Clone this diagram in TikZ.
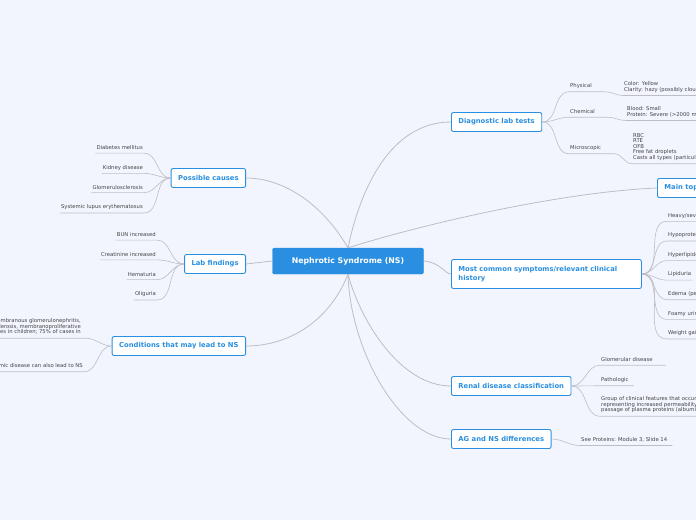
\documentclass[tikz,border=0pt]{standalone}
\usepackage{fontspec}
\setmainfont{DejaVu Sans}
\definecolor{bgblue}{HTML}{F2F5FE}
\definecolor{mapblue}{HTML}{2A8FE0}
\definecolor{linegray}{HTML}{BDBEC4}
\definecolor{leaftext}{HTML}{444444}

\tikzset{%
  central/.style={
    fill=mapblue,
    draw=mapblue,
    rounded corners=1.5pt,
    text=white,
    font=\fontsize{7.8}{9}\selectfont\bfseries,
    minimum width=151pt,
    minimum height=26pt
  },
  topic/.style={
    fill=white,
    draw=mapblue,
    line width=0.9pt,
    rounded corners=2pt,
    text=mapblue,
    font=\fontsize{6.8}{9}\selectfont\bfseries,
    minimum height=19pt,
    inner xsep=7pt
  },
  leaf/.style={
    text=leaftext,
    font=\fontsize{5.3}{7}\selectfont,
    align=left,
    inner xsep=1pt,
    inner ysep=3pt
  },
  link/.style={
    draw=linegray,
    line width=0.8pt
  },
  twig/.style={
    draw=linegray,
    line width=0.6pt
  },
}

\begin{document}
\begin{tikzpicture}[x=1pt, y=-1pt]
\fill[bgblue] (0,0) rectangle (696,520);
\useasboundingbox (0,0) rectangle (696,520);
\clip (0,0) rectangle (696,520);


% Zentrum
\node [central] (ns) at (348,261) {Nephrotic Syndrome (NS)};


% Hauptthemen rechts
\node [topic, anchor=west] (diag) at (451,122) {Diagnostic lab tests};
\node [topic, anchor=west] (main) at (657,188) {Main topic};
\node [topic, anchor=west, align=left, text width=176pt, minimum height=29pt] (symp) at (451,274)
  {Most common symptoms/relevant clinical\\history};
\node [topic, anchor=west] (renal) at (451,386) {Renal disease classification};
\node [topic, anchor=west] (agns) at (451,439) {AG and NS differences};


% Hauptthemen links
\node [topic, anchor=east] (cause) at (246,178) {Possible causes};
\node [topic, anchor=east] (labf) at (246,264) {Lab findings};
\node [topic, anchor=east] (cond) at (246,346) {Conditions that may lead to NS};


% Verbindungen vom Zentrum
\draw [link] (ns.north) .. controls (360,190) and (390,122) .. (diag.west);
\draw [link] (ns.north) .. controls (420,225) and (560,192) .. (main.west);
\draw [link] (ns.east) .. controls (440,262) and (445,274) .. (symp.west);
\draw [link] (ns.south) .. controls (360,320) and (400,386) .. (renal.west);
\draw [link] (ns.south) .. controls (350,350) and (400,439) .. (agns.west);
\draw [link] (ns.north) .. controls (320,200) and (280,178) .. (cause.east);
\draw [link] (ns.west) -- (labf.east);
\draw [link] (ns.south) .. controls (330,320) and (290,346) .. (cond.east);


% Diagnostik
\foreach \l/\n/\y in {Physical/phys/86, Chemical/chem/112, Microscopic/micro/148}
  \node [leaf, anchor=west] (\n) at (569,\y) {\l};

\foreach \n in {phys,chem,micro}
  \draw [twig] (diag.east) to[out=0, in=180] (\n.south west) -- ([xshift=12pt]\n.south east);

\node [leaf, anchor=west] (phys-d) at (623,87) {Color: Yellow\\[-1.5pt]Clarity: hazy (possibly cloudy)};
\node [leaf, anchor=west] (chem-d) at (626,112) {Blood: Small\\[-1.5pt]Protein: Severe (>2000 mg/dL)};
\node [leaf, anchor=west] (micro-d) at (632,147)
  {RBC\\[-1.5pt]RTE\\[-1.5pt]OFB\\[-1.5pt]Free fat droplets\\[-1.5pt]Casts all types (particularly fatty)};

\draw [twig] ([xshift=12pt]phys.south east) to[out=0, in=180] (phys-d.south west) -- (phys-d.south east);
\draw [twig] ([xshift=12pt]chem.south east) to[out=0, in=180] (chem-d.south west) -- (chem-d.south east);
\draw [twig] ([xshift=12pt]micro.south east) to[out=0, in=180] (micro-d.south west) -- (micro-d.south east);


% Symptome
\foreach \l [count=\i] in {Heavy/severe proteinuria, Hypoproteinemia, Hyperlipidemia, Lipiduria,
    Edema (periorbital), Foamy urine, Weight gain}
  \node [leaf, anchor=west] (symp-\i) at (667,196+\i*19.6) {\l};

\foreach \i in {1,...,7}
  \draw [twig] (symp.east) to[out=0, in=180] (symp-\i.south west) -- (symp-\i.south east);


% Klassifikation
\node [leaf, anchor=west] (renal-1) at (600,360) {Glomerular disease};
\node [leaf, anchor=west] (renal-2) at (600,380) {Pathologic};
\node [leaf, anchor=west] (renal-3) at (600,405)
  {Group of clinical features that occur together,\\[-1.5pt]representing increased permeability to the\\[-1.5pt]passage of plasma proteins (albumin)};

\draw [twig] (renal.east) to[out=0, in=180] (renal-1.south west) -- ([xshift=12pt]renal-1.south east);
\draw [twig] (renal.east) to[out=0, in=180] (renal-2.south west) -- ([xshift=4pt]renal-2.south east);
\draw [twig] (renal.east) to[out=0, in=180] (renal-3.south west) -- (renal-3.south east);

\node [leaf, anchor=west] (agns-1) at (580,440) {See Proteins: Module 3, Slide 14};
\draw [twig] (agns.east) to[out=0, in=180] (agns-1.south west) -- ([xshift=4pt]agns-1.south east);


% Ursachen
\foreach \l [count=\i] in {Diabetes mellitus, Kidney disease, Glomerulosclerosis, Systemic lupus erythematosus}
  \node [leaf, anchor=east] (cause-\i) at (144,128+\i*19.8) {\l};

\foreach \i in {1,...,4}
  \draw [twig] (cause.west) to[out=180, in=0] (cause-\i.south east) -- (cause-\i.south west);


% Laborbefunde
\foreach \l [count=\i] in {BUN increased, Creatinine increased, Hematuria, Oliguria}
  \node [leaf, anchor=east] (labf-\i) at (157,215+\i*19.8) {\l};

\foreach \i in {1,...,4}
  \draw [twig] (labf.west) to[out=180, in=0] (labf-\i.south east) -- (labf-\i.south west);


% Bedingungen
\node [leaf, anchor=east, align=right] (cond-1) at (82,327)
  {Minimal change disease, membranous glomerulonephritis,\\[-1.5pt]focal segmental glomerulosclerosis, membranoproliferative\\[-1.5pt]glomerulonephritis; 80\% of cases in children; 75\% of cases in};
\node [leaf, anchor=east] (cond-2) at (84,366) {Any systemic disease can also lead to NS};

\draw [twig] (cond.west) to[out=180, in=0] ([xshift=4pt]cond-1.south east) -- (cond-1.south west);
\draw [twig] (cond.west) to[out=180, in=0] (cond-2.south east) -- (cond-2.south west);

\end{tikzpicture}
\end{document}
